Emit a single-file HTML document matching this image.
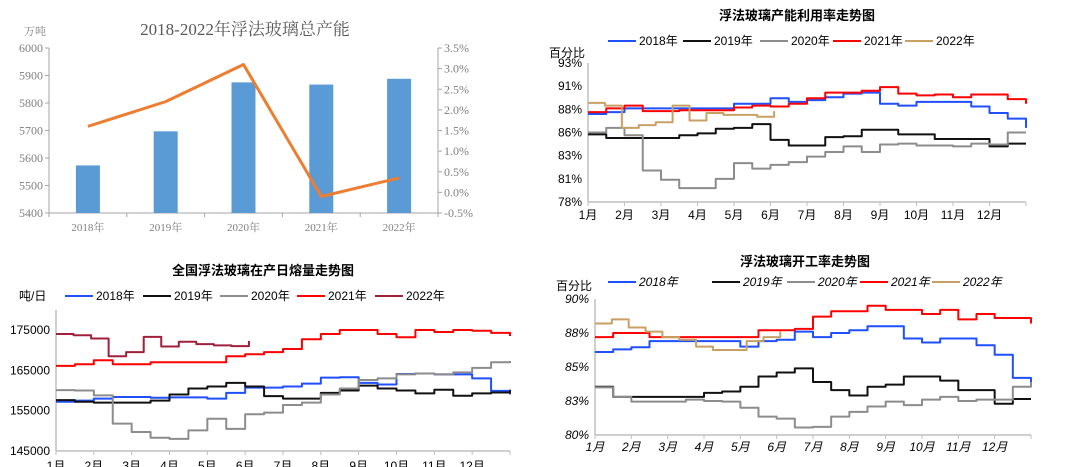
<!DOCTYPE html>
<html><head><meta charset="utf-8"><style>
body{margin:0;background:#fff}
svg{display:block;font-family:"Liberation Sans","Noto Sans CJK SC",sans-serif}
.serif{font-family:"Liberation Serif","Noto Serif CJK SC",serif}
</style></head><body>
<svg id="root" width="1080" height="467" viewBox="0 0 1080 467">
<rect width="1080" height="467" fill="#fff"/>
</svg>
<script>
// ---------- Chart 1 data ----------
const c1Years = ["2018年","2019年","2020年","2021年","2022年"];
const c1Capacity = [5573,5697,5875,5867,5888];
const c1Growth = [1.6,2.2,3.1,-0.1,0.35];
const c1LeftTicks = [5400,5500,5600,5700,5800,5900,6000];
const c1RightTicks = [-0.5,0,0.5,1,1.5,2,2.5,3,3.5];

// ---------- Chart 2 data (capacity utilisation, semi-monthly) ----------
const c2Months = ["1月","2月","3月","4月","5月","6月","7月","8月","9月","10月","11月","12月"];
const c2Ticks = [78,80.5,83,85.5,88,90.5,93];
const c2TickLabels = ["78%","81%","83%","86%","88%","91%","93%"];
const c2s2018 = [87.5,87.7,88.1,88.1,88.1,88.1,88.1,88.1,88.6,88.6,89.2,88.8,89.0,89.3,89.7,89.8,88.6,88.4,88.8,88.8,88.8,88.3,87.6,87.0,86.0];
const c2s2019 = [85.3,84.9,84.9,84.9,84.9,85.2,85.4,85.9,86.0,86.4,84.7,84.1,84.1,85.0,85.1,85.8,85.8,85.3,85.3,84.8,84.8,84.8,84.0,84.3,84.3];
const c2s2020 = [85.5,86.0,85.2,81.4,80.4,79.5,79.5,80.5,82.2,81.6,82.0,82.3,82.9,83.4,84.0,83.4,84.2,84.3,84.1,84.1,84.0,84.3,84.2,85.5,85.5];
const c2s2021 = [87.7,88.1,88.4,87.8,87.8,87.9,87.9,87.9,88.2,88.4,88.3,88.6,89.2,89.8,89.8,90.0,90.4,89.7,89.5,89.6,89.3,89.6,89.6,89.1,88.6];
const c2s2022 = [88.7,88.4,86.0,86.3,86.6,88.4,86.8,87.6,87.4,87.4,87.2,87.8];

// ---------- Chart 3 data (daily melt, t/day) ----------
const c3Ticks = [145000,155000,165000,175000];
const c3s2018 = [157200,157500,158000,158400,158400,158200,158300,158300,158000,159400,160700,160700,161000,161700,163200,163300,161900,161500,164100,164200,164000,164000,163000,159900,159000];
const c3s2019 = [157600,157200,157000,157000,157000,157500,159000,160500,161000,161900,161000,158600,158000,158000,159400,160000,161200,160500,160000,159300,160200,158700,159300,159500,160200];
const c3s2020 = [160100,160000,158800,151800,149700,148300,148000,150100,153000,150500,154100,154500,156400,157000,159000,160500,162600,163000,164000,164200,164000,164500,165600,167000,167300];
const c3s2021 = [166100,166500,167500,166500,166500,167000,167000,167000,167000,168500,169000,169500,170300,172700,174000,175000,175000,174000,173200,175000,174500,175000,174800,174300,173500];
const c3s2022 = [174000,173700,172900,168500,169500,173300,170900,172100,171500,171200,171000,172300];

// ---------- Chart 4 data (operating rate) ----------
const c4Ticks = [80,82.5,85,87.5,90];
const c4TickLabels = ["80%","83%","85%","88%","90%"];
const c4s2018 = [86.1,86.3,86.45,86.9,86.9,86.9,86.9,86.9,86.5,86.9,87.0,87.6,87.2,87.5,87.7,88.0,88.0,87.1,86.8,87.1,87.1,86.6,85.9,84.2,83.9];
const c4s2019 = [83.55,82.8,82.8,82.8,82.8,82.8,83.1,83.2,83.55,84.3,84.6,84.9,83.9,83.3,82.9,83.55,83.7,84.3,84.3,84.0,83.3,83.3,82.3,82.65,82.65];
const c4s2020 = [83.5,82.8,82.45,82.45,82.45,82.6,82.5,82.45,82.0,81.35,81.2,80.55,80.6,81.35,81.7,82.1,82.45,82.2,82.6,82.8,82.5,82.6,82.6,83.55,83.9];
const c4s2021 = [87.2,87.5,87.5,87.2,87.2,87.2,87.2,87.2,87.2,87.7,87.7,87.8,88.7,89.1,89.1,89.5,89.2,89.2,88.9,89.2,88.5,88.9,88.6,88.6,88.2];
const c4s2022 = [88.2,88.5,87.9,87.6,87.2,87.0,86.5,86.25,86.25,86.9,87.2,87.6];

const NS="http://www.w3.org/2000/svg";
const root=document.getElementById('root');
function mk(tag,attrs,parent,text){const e=document.createElementNS(NS,tag);for(const k in attrs)e.setAttribute(k,attrs[k]);if(text!==undefined)e.textContent=text;(parent||root).appendChild(e);return e;}

// ================= Chart 1 =================
(function(){
const g=mk('g',{});


const L=49,R=438,T=48,B=213;
const yL=v=>B-(v-5400)/600*(B-T);
const yR=v=>B-(v+0.5)/4*(B-T);
const bw=(R-L)/c1Years.length;
const xc=i=>L+bw*(i+0.5);
const t=mk('text',{x:245,y:35,'text-anchor':'middle','font-size':17,fill:'#595959',class:'serif'},g,'2018-2022年浮法玻璃总产能');


const u=mk('text',{x:24,y:35,'font-size':11,fill:'#808080',class:'serif'},g,'万吨');


mk('line',{x1:L,y1:T,x2:L,y2:B,stroke:'#a6a6a6'},g);
mk('line',{x1:R,y1:T,x2:R,y2:B,stroke:'#a6a6a6'},g);
mk('line',{x1:L,y1:B,x2:R,y2:B,stroke:'#a6a6a6'},g);
c1LeftTicks.forEach(v=>{const y=yL(v);mk('line',{x1:L-4,y1:y,x2:L,y2:y,stroke:'#a6a6a6'},g);
 const e=mk('text',{x:L-6,y:y+4,'text-anchor':'end','font-size':12,fill:'#7f7f7f',class:'serif'},g,String(v));
 });
c1RightTicks.forEach(v=>{const y=yR(v);mk('line',{x1:R,y1:y,x2:R+4,y2:y,stroke:'#a6a6a6'},g);
 const e=mk('text',{x:R+6,y:y+4,'font-size':12,fill:'#7f7f7f',class:'serif'},g,v.toFixed(1)+'%');
 });
for(let i=0;i<=c1Years.length;i++){mk('line',{x1:L+bw*i,y1:B,x2:L+bw*i,y2:B+4,stroke:'#a6a6a6'},g);}
c1Years.forEach((yr,i)=>{
 const b=mk('rect',{x:xc(i)-12,y:yL(c1Capacity[i]),width:24,height:B-yL(c1Capacity[i]),fill:'#5b9bd5'},g);
 
 const e=mk('text',{x:xc(i),y:231,'text-anchor':'middle','font-size':11,fill:'#7f7f7f',class:'serif'},g,yr);
 
});
const pl=mk('polyline',{points:c1Growth.map((v,i)=>xc(i)+','+yR(v)).join(' '),fill:'none',stroke:'#ed7d31','stroke-width':3,'stroke-linejoin':'round'},g);

})();

// ============ generic line chart ============
function lineChart(o){
 const g=mk('g',{});
 
 
 const {L,R,T,B,min,max}=o;
 const xs=t=>L+t/12*(R-L);
 const ys=v=>B-(v-min)/(max-min)*(B-T);
 const st=o.italic?'italic':'normal';
 const ti=mk('text',{x:o.titleX,y:o.titleY,'text-anchor':'middle','font-size':13,'font-weight':'bold',fill:'#000'},g,o.title);
 
 const un=mk('text',{x:o.unitX,y:o.unitY,'font-size':12,fill:'#000'},g,o.unit);
 
 mk('line',{x1:L,y1:o.axisTop,x2:L,y2:B,stroke:'#bfbfbf','stroke-width':1.5},g);
 mk('line',{x1:L,y1:B,x2:R,y2:B,stroke:'#bfbfbf','stroke-width':1.5},g);
 o.ticks.forEach((v,i)=>{const y=ys(v);
  const e=mk('text',{x:L-6,y:y+4,'text-anchor':'end','font-size':12,'font-style':st,fill:'#000'},g,o.tickLabels[i]);
  });
 for(let m=0;m<=12;m++){mk('line',{x1:xs(m),y1:B,x2:xs(m),y2:B+4,stroke:'#bfbfbf'},g);}
 c2Months.forEach((m,i)=>{const e=mk('text',{x:xs(i),y:o.monthY,'text-anchor':'middle','font-size':12,'font-style':st,fill:'#000'},g,m);
  });
 o.series.forEach((s,k)=>{
  const n=s.data.length;
  const step=n<25?5.1/(n-1):0.5;
  const pts=[];
  s.data.forEach((v,i)=>{
   pts.push(xs(i*step)+','+ys(v));
   if(i<n-1)pts.push(xs((i+1)*step)+','+ys(v));
  });
  const p=mk('polyline',{points:pts.join(' '),fill:'none',stroke:s.color,'stroke-width':2,'stroke-linejoin':'round'},g);
  
  const lx=o.legendX[k];
  mk('line',{x1:lx,y1:o.legendY-4,x2:lx+28,y2:o.legendY-4,stroke:s.color,'stroke-width':2},g);
  const lt=mk('text',{x:lx+31,y:o.legendY,'font-size':12,'font-style':st,fill:'#000'},g,s.label);
  
 });
}

lineChart({name:'utilization-chart',L:588,R:1026,T:63,B:202,min:78,max:93,axisTop:63,
 title:'浮法玻璃产能利用率走势图',titleX:797,titleY:20,unit:'百分比',unitX:549,unitY:57,monthY:219,
 ticks:c2Ticks,tickLabels:c2TickLabels,legendY:45,
 legendX:[608,683,760,833,905],
 series:[{label:'2018年',data:c2s2018,color:'#1f4fff'},{label:'2019年',data:c2s2019,color:'#111'},
 {label:'2020年',data:c2s2020,color:'#8c8c8c'},{label:'2021年',data:c2s2021,color:'#ff0000'},
 {label:'2022年',data:c2s2022,color:'#c9a063'}]});

lineChart({name:'daily-melt-chart',L:56,R:510,T:330,B:451,min:145000,max:175000,axisTop:310,
 title:'全国浮法玻璃在产日熔量走势图',titleX:263,titleY:275,unit:'吨/日',unitX:19,unitY:300,monthY:470,
 ticks:c3Ticks,tickLabels:c3Ticks.map(String),legendY:300,
 legendX:[65,143,220,297,375],
 series:[{label:'2018年',data:c3s2018,color:'#1f4fff'},{label:'2019年',data:c3s2019,color:'#111'},
 {label:'2020年',data:c3s2020,color:'#8c8c8c'},{label:'2021年',data:c3s2021,color:'#ff0000'},
 {label:'2022年',data:c3s2022,color:'#a0203c'}]});

lineChart({name:'operating-rate-chart',L:595,R:1031,T:299,B:435,min:80,max:90,axisTop:299,
 title:'浮法玻璃开工率走势图',titleX:805,titleY:266,unit:'百分比',unitX:556,unitY:290,monthY:451,italic:true,
 ticks:c4Ticks,tickLabels:c4TickLabels,legendY:286,
 legendX:[608,712,787,860,932],
 series:[{label:'2018年',data:c4s2018,color:'#1f4fff'},{label:'2019年',data:c4s2019,color:'#111'},
 {label:'2020年',data:c4s2020,color:'#8c8c8c'},{label:'2021年',data:c4s2021,color:'#ff0000'},
 {label:'2022年',data:c4s2022,color:'#c9a063'}]});
</script>
</body></html>
